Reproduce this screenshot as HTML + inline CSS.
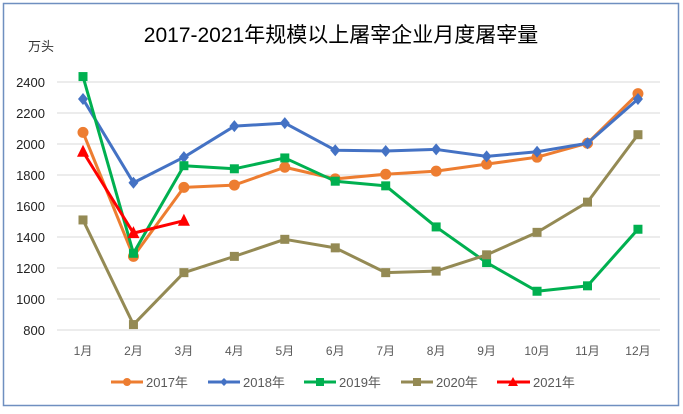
<!DOCTYPE html>
<html><head><meta charset="utf-8"><style>
body{margin:0;background:#fff}
svg{display:block;font-family:"Liberation Sans","Noto Sans CJK SC",sans-serif}
</style></head><body>
<svg id="s" width="683" height="414" viewBox="0 0 683 414">
<rect x="0" y="0" width="683" height="414" fill="#fff"/>
<rect x="3.5" y="3.5" width="675" height="402" fill="none" stroke="#6f8fc0" stroke-width="1.5"/>
<text x="341" y="42" font-size="21" text-anchor="middle" fill="#000">2017-2021年规模以上屠宰企业月度屠宰量</text>
<text x="28" y="51" font-size="13" fill="#333">万头</text>
<g id="grid" stroke="#d9d9d9" stroke-width="1"></g>
<g id="yl" font-size="13" fill="#222" text-anchor="end"></g>
<g id="xl" font-size="12" fill="#595959" text-anchor="middle"></g>
<g id="ser"></g>
<g font-size="13" fill="#595959">
<line x1="111" y1="382" x2="143" y2="382" stroke="#ED7D31" stroke-width="3"/><circle cx="127" cy="382" r="4" fill="#ED7D31"/><text x="146" y="387">2017年</text>
<line x1="208" y1="382" x2="240" y2="382" stroke="#4472C4" stroke-width="3"/><path d="M224 378L228 382L224 386L220 382Z" fill="#4472C4"/><text x="243" y="387">2018年</text>
<line x1="304" y1="382" x2="336" y2="382" stroke="#00B050" stroke-width="3"/><rect x="316" y="378" width="8" height="8" fill="#00B050"/><text x="339" y="387">2019年</text>
<line x1="401" y1="382" x2="433" y2="382" stroke="#948A54" stroke-width="3"/><rect x="413" y="378" width="8" height="8" fill="#948A54"/><text x="436" y="387">2020年</text>
<line x1="497" y1="382" x2="530" y2="382" stroke="#FF0000" stroke-width="3"/><path d="M513 377L518 386L508 386Z" fill="#FF0000"/><text x="533" y="387">2021年</text>
</g>
</svg>
<script>
var NS="http://www.w3.org/2000/svg";
function el(t,a,p){var e=document.createElementNS(NS,t);for(var k in a)e.setAttribute(k,a[k]);document.getElementById(p).appendChild(e);return e;}
function Y(v){return 82+(2400-v)*0.155;}
function X(i){return 83+i*50.45;}
for(var v=800;v<=2400;v+=200){el("line",{x1:57,x2:660,y1:Y(v),y2:Y(v)},"grid");var t=el("text",{x:45,y:Y(v)+5},"yl");t.textContent=v;}
for(var i=0;i<12;i++){var t=el("text",{x:X(i),y:355},"xl");t.textContent=(i+1)+"月";}
var S=[
["#ED7D31","c",[2075,1275,1720,1735,1850,1775,1805,1825,1870,1915,2005,2325]],
["#4472C4","d",[2290,1750,1915,2115,2135,1960,1955,1965,1920,1950,2005,2290]],
["#00B050","s",[2435,1295,1860,1840,1910,1760,1730,1465,1235,1050,1085,1450]],
["#948A54","s",[1510,835,1170,1275,1385,1330,1170,1180,1285,1430,1625,2060]],
["#FF0000","t",[1950,1425,1505]]];
S.forEach(function(s){var c=s[0],d=s[2];
el("polyline",{points:d.map(function(v,i){return X(i)+","+Y(v)}).join(" "),fill:"none",stroke:c,"stroke-width":3,"stroke-linejoin":"round"},"ser");
d.forEach(function(v,i){var x=X(i),y=Y(v);
if(s[1]=="c")el("circle",{cx:x,cy:y,r:5.5,fill:c},"ser");
else if(s[1]=="d")el("path",{d:"M"+x+" "+(y-6)+"L"+(x+5)+" "+y+"L"+x+" "+(y+6)+"L"+(x-5)+" "+y+"Z",fill:c},"ser");
else if(s[1]=="s")el("rect",{x:x-4.5,y:y-4.5,width:9,height:9,fill:c},"ser");
else el("path",{d:"M"+x+" "+(y-7)+"L"+(x+6)+" "+(y+5)+"L"+(x-6)+" "+(y+5)+"Z",fill:c},"ser");});});
</script>
</body></html>
